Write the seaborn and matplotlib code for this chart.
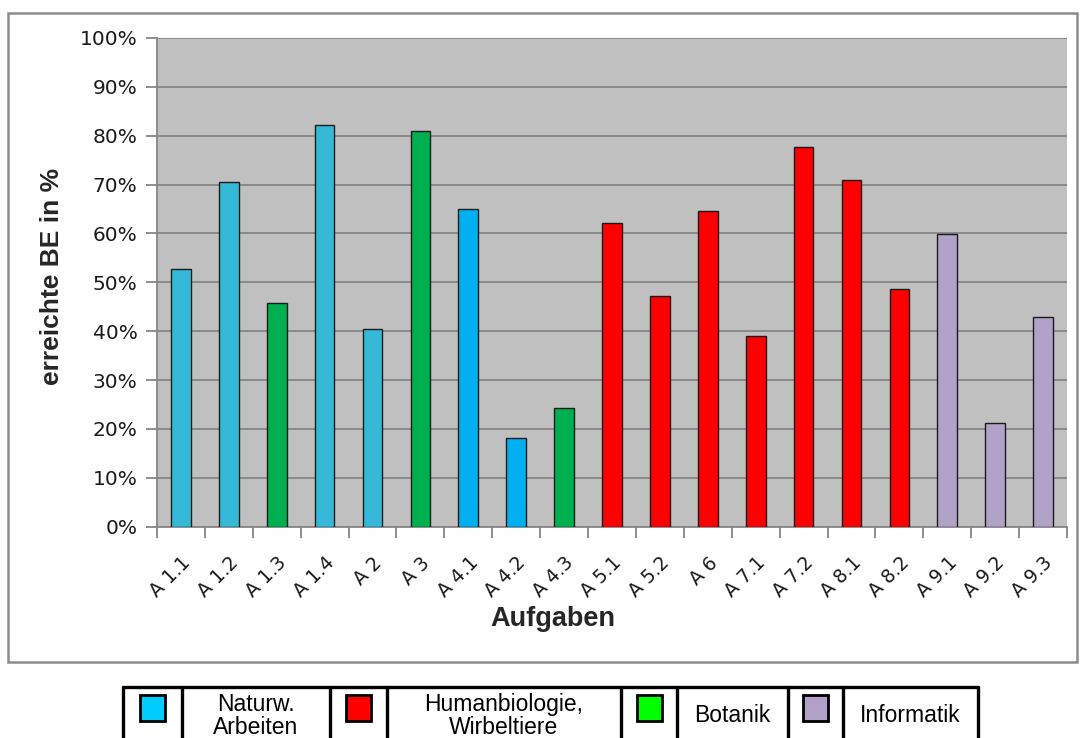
import matplotlib
matplotlib.use("Agg")
import matplotlib.pyplot as plt
from matplotlib.patches import Rectangle
from matplotlib.ticker import PercentFormatter, FixedLocator
import seaborn as sns
import pandas as pd

# Achieved share of points (BE) per task
aufgaben = ["A 1.1", "A 1.2", "A 1.3", "A 1.4", "A 2", "A 3", "A 4.1", "A 4.2",
            "A 4.3", "A 5.1", "A 5.2", "A 6", "A 7.1", "A 7.2", "A 8.1", "A 8.2",
            "A 9.1", "A 9.2", "A 9.3"]
anteil = [0.527, 0.706, 0.457, 0.821, 0.404, 0.809, 0.650, 0.182, 0.242,
          0.622, 0.471, 0.646, 0.390, 0.777, 0.709, 0.486, 0.599, 0.212, 0.429]
balkenfarben = ["#36B9D9", "#36B9D9", "#00B050", "#36B9D9", "#36B9D9", "#00B050",
                "#00B0F0", "#00B0F0", "#00B050", "#FF0000", "#FF0000", "#FF0000",
                "#FF0000", "#FF0000", "#FF0000", "#FF0000", "#B2A2C7", "#B2A2C7",
                "#B2A2C7"]

# Legend table entries
bereiche = ["Naturw.\nArbeiten", "Humanbiologie,\nWirbeltiere", "Botanik", "Informatik"]
bereichsfarben = ["#00CCFF", "#FF0000", "#00FF00", "#B1A0C7"]

df = pd.DataFrame({"Aufgabe": aufgaben, "Anteil": anteil})

sns.set_theme(style="white")
plt.rcParams["font.family"] = ["DejaVu Sans"]

W, H = 1085, 738
fig = plt.figure(figsize=(W / 100, H / 100), dpi=100)

def fx(px):
    return px / W

def fy(py):
    return 1 - py / H

# outer chart frame
fig.patches.append(Rectangle((fx(7.5), fy(661.5)), fx(1077 - 7.5), (661.5 - 12.5) / H,
                             transform=fig.transFigure, fill=False,
                             edgecolor="#8C8C8C", linewidth=1.8, zorder=0))

ax_l, ax_r, ax_t, ax_b = 157, 1067, 37.8, 526.8
ax = fig.add_axes([fx(ax_l), fy(ax_b), fx(ax_r - ax_l), (ax_b - ax_t) / H])
ax.set_facecolor("#C0C0C0")

sns.barplot(data=df, x="Aufgabe", y="Anteil", hue="Aufgabe",
            palette=dict(zip(aufgaben, balkenfarben)), legend=False,
            saturation=1, width=0.41, edgecolor="#1A1A1A", linewidth=1.0,
            ax=ax, zorder=3)

ax.set_xlim(-0.5, len(aufgaben) - 0.5)
ax.set_ylim(0, 1.0)
ax.yaxis.set_major_locator(FixedLocator([i / 10 for i in range(11)]))
ax.yaxis.set_major_formatter(PercentFormatter(1.0, decimals=0))
ax.grid(axis="y", color="#868686", linewidth=1.3, zorder=0)
ax.set_axisbelow(True)

for s in ["top", "right"]:
    ax.spines[s].set_visible(False)
for s in ["left", "bottom"]:
    ax.spines[s].set_color("#868686")
    ax.spines[s].set_linewidth(1.3)

# tick marks between categories, labels at category centres
ax.set_xticks([i - 0.5 for i in range(len(aufgaben) + 1)], minor=True)
ax.tick_params(axis="x", which="minor", direction="out", length=8, width=1.3,
               color="#868686", bottom=True)
ax.tick_params(axis="x", which="major", length=0, labelsize=13.5, pad=19,
               labelcolor="#1A1A1A")
ax.tick_params(axis="y", which="major", direction="out", length=8, width=1.3,
               color="#868686", left=True, labelsize=14.5, pad=6,
               labelcolor="#1A1A1A")
for lbl in ax.get_xticklabels():
    lbl.set_rotation(45)
    lbl.set_ha("right")
    lbl.set_va("top")
    lbl.set_rotation_mode("anchor")
    lbl.set_x(lbl.get_position()[0])

def ax_x(px):
    return (px - ax_l) / (ax_r - ax_l)

def ax_y(py):
    return (ax_b - py) / (ax_b - ax_t)

ax.set_xlabel("Aufgaben", fontsize=19.5, fontweight="bold",
              family="Liberation Sans", va="center")
ax.xaxis.set_label_coords(ax_x(553), ax_y(619))
ax.set_ylabel("erreichte BE in %", fontsize=19, fontweight="bold",
              family="Liberation Sans", va="center")
ax.yaxis.set_label_coords(ax_x(52), ax_y(276))

# legend drawn as a table below the chart
cols = [123, 182, 330, 387, 621, 677, 788, 843, 978]
top, bottom = 687, 760
lw = 2.4
fig.lines.append(plt.Line2D([fx(cols[0]), fx(cols[-1])], [fy(top), fy(top)],
                            transform=fig.transFigure, color="black", linewidth=lw))
fig.lines.append(plt.Line2D([fx(cols[0]), fx(cols[-1])], [fy(bottom), fy(bottom)],
                            transform=fig.transFigure, color="black", linewidth=lw))
for c in cols:
    fig.lines.append(plt.Line2D([fx(c), fx(c)], [fy(top), fy(bottom)],
                                transform=fig.transFigure, color="black", linewidth=lw))
for i, (name, col) in enumerate(zip(bereiche, bereichsfarben)):
    x0, x1, x2 = cols[2 * i], cols[2 * i + 1], cols[2 * i + 2]
    cx = (x0 + x1) / 2
    fig.patches.append(Rectangle((fx(cx - 12.5), fy(721)), fx(25), 26 / H,
                                 transform=fig.transFigure, facecolor=col,
                                 edgecolor="black", linewidth=2.0))
    fig.text(fx((x1 + x2) / 2), fy(716), name, ha="center", va="center",
             fontsize=16.5, family="Liberation Sans", color="black",
             linespacing=1.05)

fig.savefig("out.png", dpi=100)
